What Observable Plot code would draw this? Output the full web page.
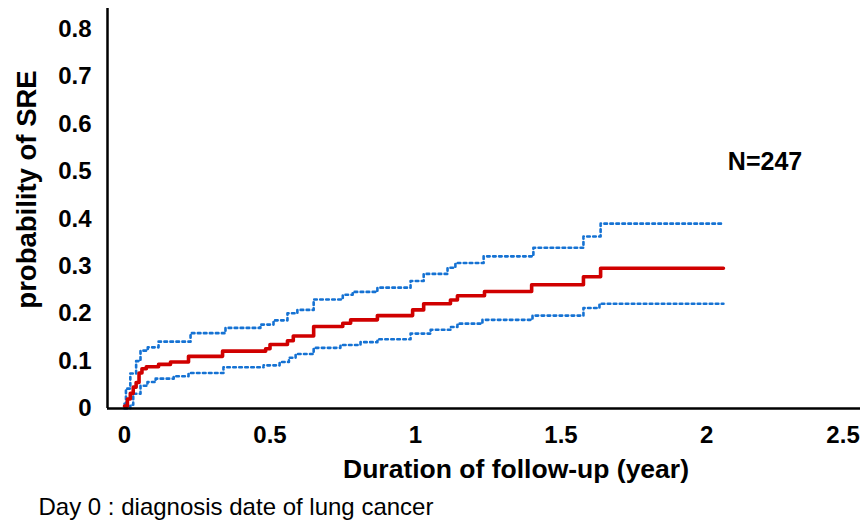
<!DOCTYPE html>
<html>
<head>
<meta charset="utf-8">
<script src="https://cdn.jsdelivr.net/npm/d3@7"></script>
<script src="https://cdn.jsdelivr.net/npm/@observablehq/plot@0.6"></script>
<style>
  body { margin: 0; background: #fff; }
  #chart svg { display: block; }
</style>
</head>
<body>
<div id="chart"></div>
<script>
// ---- data ----
const xTicks = [0, 0.5, 1, 1.5, 2];
const xLastTick = [2.5];
const yTicks = [0, 0.1, 0.2, 0.3, 0.4, 0.5, 0.6, 0.7, 0.8];

// cumulative probability of SRE: [years, probability]
const estimate = [
  [0, 0.005], [0.01, 0.02], [0.02, 0.032], [0.03, 0.045], [0.04, 0.055],
  [0.05, 0.075], [0.06, 0.084], [0.075, 0.088], [0.117, 0.093], [0.158, 0.098],
  [0.22, 0.110], [0.337, 0.121], [0.485, 0.126], [0.50, 0.135], [0.56, 0.143],
  [0.58, 0.153], [0.65, 0.173], [0.75, 0.180], [0.777, 0.187], [0.869, 0.196],
  [0.99, 0.208], [1.028, 0.221], [1.12, 0.229], [1.144, 0.238], [1.237, 0.247],
  [1.399, 0.261], [1.577, 0.278], [1.636, 0.296], [2.058, 0.296]
];
const upperCI = [
  [0, 0.01], [0.005, 0.042], [0.02, 0.074], [0.04, 0.10], [0.055, 0.122],
  [0.08, 0.129], [0.117, 0.141], [0.227, 0.159], [0.347, 0.170], [0.467, 0.177],
  [0.512, 0.186], [0.56, 0.201], [0.594, 0.208], [0.65, 0.230], [0.75, 0.240],
  [0.784, 0.246], [0.869, 0.255], [0.983, 0.269], [1.028, 0.284], [1.11, 0.297],
  [1.137, 0.307], [1.234, 0.321], [1.405, 0.339], [1.577, 0.363], [1.636, 0.390],
  [2.058, 0.390]
];
const lowerCI = [
  [0, 0.0], [0.02, 0.008], [0.03, 0.031], [0.055, 0.048], [0.079, 0.056],
  [0.107, 0.063], [0.169, 0.068], [0.22, 0.075], [0.34, 0.087], [0.478, 0.091],
  [0.533, 0.098], [0.565, 0.107], [0.588, 0.115], [0.65, 0.128], [0.742, 0.134],
  [0.811, 0.140], [0.869, 0.146], [0.983, 0.158], [1.052, 0.166], [1.12, 0.172],
  [1.144, 0.179], [1.23, 0.187], [1.402, 0.196], [1.577, 0.212], [1.632, 0.221],
  [2.058, 0.221]
];
const annotation = ["N=247"];
const xLabel = ["Duration of follow-up (year)"];
const yLabel = ["probability of SRE"];
const caption = ["Day 0 : diagnosis date of lung cancer"];

// ---- chart ----
const xMin = -0.0584, xMax = 2.529;
const font = "'Liberation Sans', Arial, Helvetica, sans-serif";
const tickStyle = { tickSize: 0, tickPadding: 17, fontSize: 24, fontWeight: "bold", tickFormat: d => String(d), label: null };

const chart = Plot.plot({
  width: 865,
  height: 524,
  marginLeft: 107,
  marginRight: 5,
  marginTop: 8,
  marginBottom: 116,
  style: { fontFamily: font, fontWeight: "bold", background: "#fff", color: "#000" },
  x: { domain: [xMin, xMax], range: [107, 860] },
  y: { domain: [0, 0.8439], range: [408, 8] },
  marks: [
    Plot.axisX(xTicks, tickStyle),
    Plot.axisX(xLastTick, { ...tickStyle, dx: -9 }),
    Plot.axisY(yTicks, { ...tickStyle, tickPadding: 16 }),
    Plot.line(upperCI, { x: d => d[0], y: d => d[1], curve: "step-after", stroke: "#1572d3", strokeWidth: 2.6, strokeDasharray: "2.6,3.4" }),
    Plot.line(lowerCI, { x: d => d[0], y: d => d[1], curve: "step-after", stroke: "#1572d3", strokeWidth: 2.6, strokeDasharray: "2.6,3.4" }),
    Plot.line(estimate, { x: d => d[0], y: d => d[1], curve: "step-after", stroke: "#d00000", strokeWidth: 3.6 }),
    Plot.ruleX([xMin], { stroke: "#000", strokeWidth: 2.5 }),
    Plot.ruleY([0], { stroke: "#000", strokeWidth: 2.5 }),
    Plot.text(annotation, { x: 2.201, y: 0.521, text: d => d, fontSize: 25, fontWeight: "bold", textAnchor: "middle", lineAnchor: "middle", fill: "#000" }),
    Plot.text(xLabel, { frameAnchor: "bottom", text: d => d, dx: 32, dy: 61, fontSize: 26.5, fontWeight: "bold", textAnchor: "middle", lineAnchor: "middle", fill: "#000" }),
    Plot.text(yLabel, { frameAnchor: "left", text: d => d, rotate: -90, dx: -80, dy: -19, fontSize: 27.5, fontWeight: "bold", textAnchor: "middle", lineAnchor: "middle", fill: "#000" }),
    Plot.text(caption, { frameAnchor: "bottom-left", text: d => d, dx: -69, dy: 99, fontSize: 24, fontWeight: "normal", textAnchor: "start", lineAnchor: "middle", fill: "#000" })
  ]
});
document.getElementById("chart").appendChild(chart);
</script>
</body>
</html>
